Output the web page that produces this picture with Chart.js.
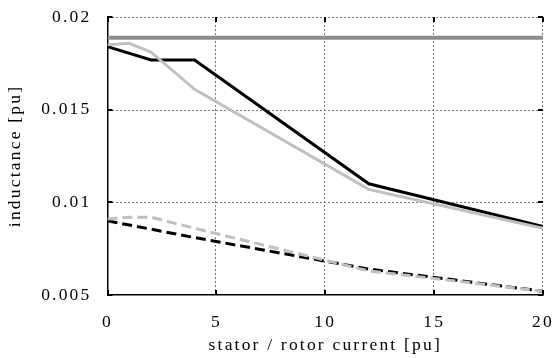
<!DOCTYPE html>
<html>
<head>
<meta charset="UTF-8">
<title>inductance</title>
<script src="https://cdn.jsdelivr.net/npm/chart.js"></script>
<style>
  html, body { margin: 0; padding: 0; background: #fff; }
  #wrap { width: 555px; height: 358px; }
</style>
</head>
<body>
<div id="wrap"><canvas id="c"></canvas></div>
<script>
// values
const xTicks = [0, 5, 10, 15, 20];
const yTicks = [0.005, 0.01, 0.015, 0.02];
const yTickLabels = ['0.005', '0.01', '0.015', '0.02'];

const flatX = [0, 20];
const flatY = [0.01888, 0.01888];

const blackX = [0, 2, 4, 12, 20];
const blackY = [0.0184, 0.01768, 0.01768, 0.0110, 0.0087];

const greyX = [0, 1, 2, 4, 12, 20];
const greyY = [0.0185, 0.01858, 0.0181, 0.0161, 0.0107, 0.0086];

const blackDashX = [0, 4, 12, 20];
const blackDashY = [0.0090, 0.0081, 0.0064, 0.0052];

const greyDashX = [0, 1, 2, 4, 12, 20];
const greyDashY = [0.0091, 0.0092, 0.0092, 0.0086, 0.0063, 0.0052];

function pts(xs, ys) { return xs.map((x, i) => ({ x: x, y: ys[i] })); }

const spacing = {
  id: 'spacing',
  beforeUpdate(chart) { chart.ctx.letterSpacing = '2.2px'; },
  beforeDraw(chart) { chart.ctx.letterSpacing = '2.2px'; }
};

// dotted grid (incl. top/right box) + inward tick marks like the original
const boxGrid = {
  id: 'boxGrid',
  beforeDatasetsDraw(chart) {
    const ctx = chart.ctx, a = chart.chartArea;
    const x = chart.scales.x, y = chart.scales.y;
    const L = Math.round(a.left), R = Math.round(a.right), T = Math.round(a.top), B = Math.round(a.bottom);
    ctx.save();
    ctx.strokeStyle = '#777777';
    ctx.lineWidth = 1;
    ctx.setLineDash([2, 2]);
    xTicks.slice(1).forEach(v => {
      const px = Math.round(x.getPixelForValue(v)) - 0.5;
      ctx.beginPath(); ctx.moveTo(px, T); ctx.lineTo(px, B); ctx.stroke();
    });
    yTicks.slice(1).forEach(v => {
      const py = Math.round(y.getPixelForValue(v)) + 0.5;
      ctx.beginPath(); ctx.moveTo(L, py); ctx.lineTo(R, py); ctx.stroke();
    });
    ctx.restore();
  },
  afterDatasetsDraw(chart) {
    const ctx = chart.ctx, a = chart.chartArea;
    const x = chart.scales.x, y = chart.scales.y;
    ctx.save();
    ctx.strokeStyle = '#000';
    ctx.lineWidth = 2;
    xTicks.forEach(v => {
      const px = Math.round(x.getPixelForValue(v));
      ctx.beginPath();
      ctx.moveTo(px, a.bottom); ctx.lineTo(px, a.bottom - 5);
      ctx.moveTo(px, a.top); ctx.lineTo(px, a.top + 5);
      ctx.stroke();
    });
    yTicks.forEach(v => {
      const py = Math.round(y.getPixelForValue(v));
      ctx.beginPath();
      ctx.moveTo(a.left, py); ctx.lineTo(a.left + 5, py);
      ctx.moveTo(a.right, py); ctx.lineTo(a.right - 5, py);
      ctx.stroke();
    });
    ctx.restore();
  }
};

const font = { family: '"Liberation Serif", "Times New Roman", serif', size: 17.5 };

function noPad(s) { s.paddingLeft = 0; s.paddingRight = 0; s.paddingTop = 0; s.paddingBottom = 0; }

new Chart(document.getElementById('c'), {
  type: 'line',
  data: {
    datasets: [
      { data: pts(flatX, flatY), borderColor: '#8c8c8c', borderWidth: 4, order: 1 },
      { data: pts(blackX, blackY), borderColor: '#000000', borderWidth: 3, order: 3 },
      { data: pts(greyX, greyY), borderColor: '#c0c0c0', borderWidth: 3, order: 2 },
      { data: pts(blackDashX, blackDashY), borderColor: '#000000', borderWidth: 3, borderDash: [10, 5], order: 5 },
      { data: pts(greyDashX, greyDashY), borderColor: '#c0c0c0', borderWidth: 3, borderDash: [10, 5], order: 4 }
    ]
  },
  options: {
    responsive: true,
    maintainAspectRatio: false,
    animation: false,
    layout: { padding: { left: 7, top: 17, right: 12, bottom: 4 } },
    elements: { point: { radius: 0 }, line: { tension: 0 } },
    plugins: { legend: { display: false }, tooltip: { enabled: false } },
    scales: {
      x: {
        type: 'linear', min: 0, max: 20,
        afterBuildTicks(s) { s.ticks = xTicks.map(v => ({ value: v })); },
        afterFit(s) { s.height = 59; noPad(s); },
        grid: { display: false },
        border: { display: true, color: '#000', width: 1.5 },
        ticks: { color: '#000', font: font, padding: 9, maxRotation: 0, callback: v => String(v) },
        title: { display: true, text: 'stator / rotor current [pu]', color: '#000', font: { ...font, lineHeight: 1 }, padding: 0 }
      },
      y: {
        type: 'linear', min: 0.005, max: 0.02,
        afterBuildTicks(s) { s.ticks = yTicks.map(v => ({ value: v })); },
        afterFit(s) { s.width = 100.5; noPad(s); },
        grid: { display: false },
        border: { display: true, color: '#000', width: 1.5 },
        ticks: { color: '#000', font: font, padding: 8, callback: (v) => yTickLabels[yTicks.indexOf(v)] },
        title: { display: true, text: 'inductance [pu]', color: '#000', font: { ...font, lineHeight: 1 }, padding: 0 }
      }
    }
  },
  plugins: [spacing, boxGrid]
});
</script>
</body>
</html>
